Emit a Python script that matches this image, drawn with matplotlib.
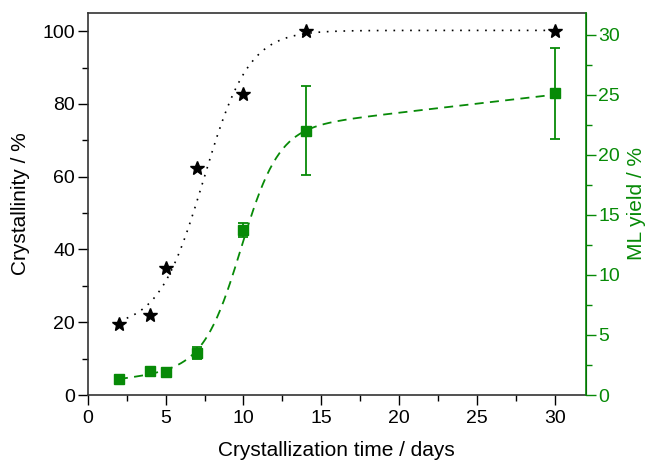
import numpy as np
import matplotlib.pyplot as plt

plt.rcParams['font.family'] = ['Liberation Sans', 'DejaVu Sans']

GREEN = '#078a07'

# measured points
days = [2, 4, 5, 7, 10, 14, 30]
crystallinity = [19.6, 22.0, 35.0, 62.5, 82.6, 100.0, 100.0]
ml_yield = [1.35, 2.0, 1.9, 3.5, 13.75, 22.0, 25.1]
ml_err = [0.0, 0.0, 0.0, 0.5, 0.6, 3.7, 3.8]

# fit parameters (Boltzmann)
cryst_fit = dict(a1=18.5, a2=100.2, x0=7.45, dx=1.45)
yield_fit = dict(base=1.0, slope=0.15, amp=19.5, x0=9.85, dx=1.2)


def boltzmann(x, a1, a2, x0, dx):
    return a2 + (a1 - a2) / (1 + np.exp((x - x0) / dx))


def yield_curve(x, base, slope, amp, x0, dx):
    return base + slope * x + amp / (1 + np.exp(-(x - x0) / dx))


fig = plt.figure(figsize=(6.5, 4.62), dpi=100)
ax = fig.add_axes([0.135, 0.145, 0.7665, 0.827])
ax2 = ax.twinx()

xs = np.linspace(2, 30, 400)
ax.plot(xs, boltzmann(xs, **cryst_fit), color='black', linestyle=(0, (1, 4)), lw=1.2)
ax.plot(days, crystallinity, linestyle='none', marker='*', color='black', markersize=10)

ax2.plot(xs, yield_curve(xs, **yield_fit), color=GREEN, linestyle=(0, (5, 3.5)), lw=1.3)
ax2.errorbar(days, ml_yield, yerr=ml_err, fmt='s', color=GREEN, markersize=6.5,
             capsize=3.5, elinewidth=1.3, capthick=1.3)

ax.set_xlim(0, 32)
ax.set_ylim(0, 105)
ax2.set_ylim(0, 31.8)

ax.set_xticks(range(0, 31, 5))
ax.set_xticks(np.arange(2.5, 32, 5), minor=True)
ax.set_yticks(range(0, 101, 20))
ax.set_yticks(range(10, 101, 20), minor=True)
ax2.set_yticks(range(0, 31, 5))
ax2.set_yticks(np.arange(2.5, 31, 5), minor=True)

ax.tick_params(which='major', length=7, width=1, labelsize=14, direction='out', pad=2)
ax.tick_params(axis='x', which='major', pad=4)
ax.tick_params(which='minor', length=4, width=1, direction='out')
ax2.tick_params(which='major', length=7, width=1, labelsize=14, colors=GREEN, pad=2)
ax2.tick_params(which='minor', length=4, width=1, colors=GREEN)

ax2.spines['right'].set_color(GREEN)
ax2.spines['right'].set_linewidth(1.2)
for s in ['left', 'bottom', 'top']:
    ax.spines[s].set_linewidth(1.2)
    ax.spines[s].set_color('#333333')
ax2.spines['left'].set_visible(False)
ax2.spines['top'].set_visible(False)
ax2.spines['bottom'].set_visible(False)

ax.set_xlabel('Crystallization time / days', fontsize=15, labelpad=10)
ax.set_ylabel('Crystallinity / %', fontsize=15, labelpad=9)
ax2.set_ylabel('ML yield / %', fontsize=15, color=GREEN, labelpad=5)

fig.savefig('out.png', dpi=100)
